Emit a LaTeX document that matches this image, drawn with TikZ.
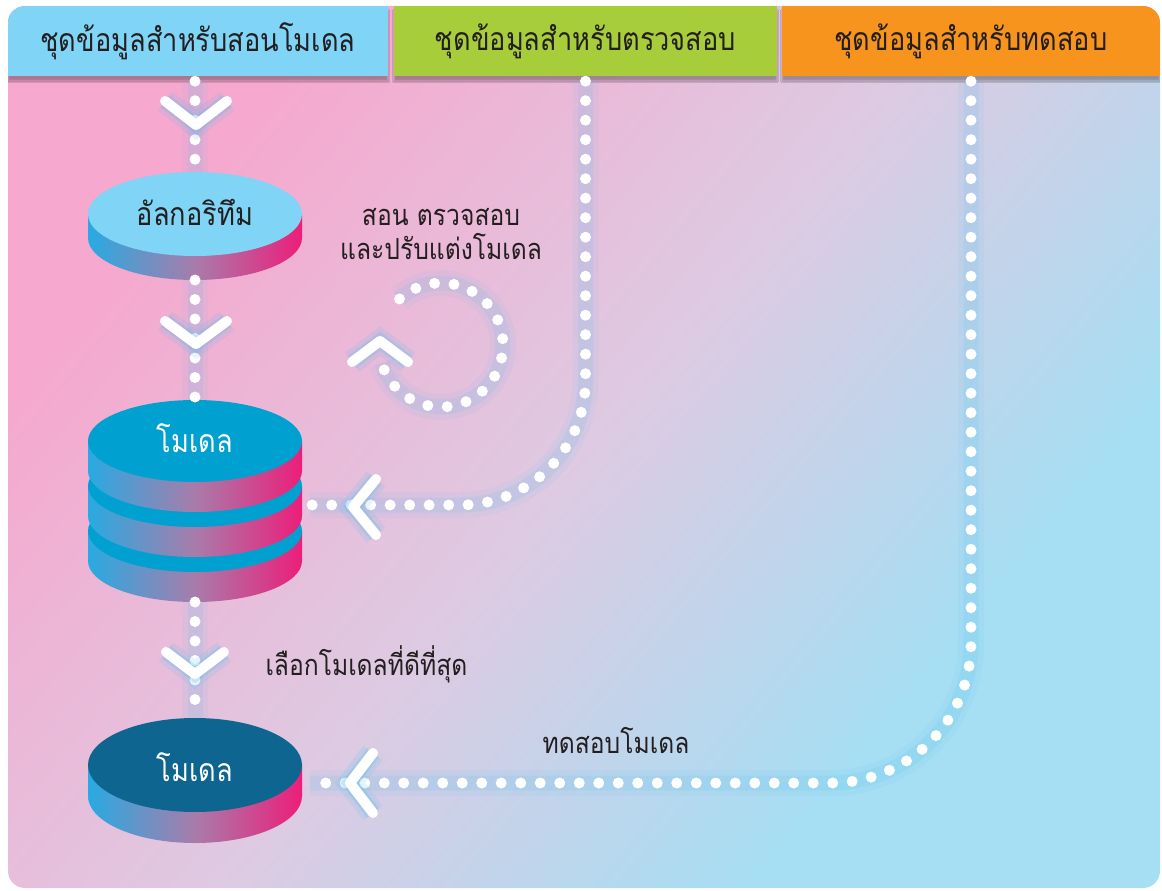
\documentclass[tikz,border=0pt]{standalone}
\usepackage{fontspec}
\newfontfamily\thaifont[Script=Thai, FakeStretch=0.85]{Loma}
\usepackage{tikz}
\usetikzlibrary{calc}
\usetikzlibrary{positioning}
\usetikzlibrary{shadows.blur}

\definecolor{bgpink}{RGB}{246,168,206}
\definecolor{bglav}{RGB}{222,202,226}
\definecolor{bgblue}{RGB}{166,222,243}
\definecolor{hdrblue}{RGB}{128,212,246}
\definecolor{hdrgreen}{RGB}{168,205,58}
\definecolor{hdrorange}{RGB}{247,148,29}
\definecolor{sideblue}{RGB}{40,170,226}
\definecolor{sidemauve}{RGB}{168,124,170}
\definecolor{sidepink}{RGB}{236,30,122}
\definecolor{algoface}{RGB}{128,212,246}
\definecolor{modelface}{RGB}{0,160,208}
\definecolor{bestface}{RGB}{14,101,144}
\definecolor{glowblue}{RGB}{80,190,240}
\definecolor{inkdark}{RGB}{35,31,32}

\pgfdeclarehorizontalshading{bgfade}{100bp}{%
  color(0bp)=(bgpink); color(27bp)=(bgpink); color(50bp)=(bglav);
  color(70bp)=(bgblue); color(100bp)=(bgblue)}

% one disk: centre x, face centre y, face y radius, thickness, face colour
\newcommand{\drawdisk}[5]{%
  \shade[left color=sideblue, right color=sidepink, middle color=sidemauve]
    (#1-107,#2) -- (#1-107,#2+#4)
    arc[start angle=180, end angle=360, x radius=107pt, y radius=#3pt]
    -- (#1+107,#2) -- cycle;
  \fill[#5] (#1,#2) ellipse [x radius=107, y radius=#3];
}

\begin{document}
\begin{tikzpicture}[
    x = 1pt,
    y = -1pt,
    font = \thaifont,
    hdr/.style = {
      rectangle,
      minimum height=70pt,
      inner sep=0pt,
      text=inkdark,
      font=\thaifont\fontsize{32}{38}\selectfont,
      blur shadow={shadow xshift=0pt, shadow yshift=-5pt,
        shadow opacity=30, shadow blur steps=6}
    },
    disklabel/.style = {
      font=\thaifont\fontsize{32}{36}\selectfont
    },
    note/.style = {
      text=inkdark,
      align=center,
      font=\thaifont\fontsize{29}{34}\selectfont
    },
    dots/.style = {
      draw=white,
      line width=11pt,
      line cap=round,
      dash pattern=on 0pt off 19.5pt,
      preaction={draw=glowblue, solid, line cap=butt, line width=26pt, draw opacity=.07},
      preaction={draw=glowblue, solid, line cap=butt, line width=15pt, draw opacity=.13}
    },
    chev/.style = {
      draw=white,
      line width=10pt,
      line cap=round,
      line join=round,
      preaction={draw=glowblue, line width=24pt, draw opacity=.14},
      preaction={draw=glowblue, line width=15pt, draw opacity=.25}
    }
  ]
  \useasboundingbox (0,0) rectangle (1162,891);

  % background
  \shade[rounded corners=17pt, shading=bgfade, shading angle=-40]
    (8,6) rectangle (1160,888);

  % headers
  \begin{scope}
    \clip[rounded corners=17pt] (8,6) rectangle (1160,888);
    \node[hdr, fill=hdrblue, minimum width=380pt] (hdrtrain) at (198,41) {ชุดข้อมูลสำหรับสอนโมเดล};
    \node[hdr, fill=hdrgreen, minimum width=383pt] (hdrval) at (585.5,41) {ชุดข้อมูลสำหรับตรวจสอบ};
    \node[hdr, fill=hdrorange, minimum width=378pt] (hdrtest) at (971,41) {ชุดข้อมูลสำหรับทดสอบ};
  \end{scope}

  % disks
  \drawdisk{195}{214}{42}{24}{algoface}
  \drawdisk{195}{531}{41}{30}{modelface}
  \drawdisk{195}{486}{41}{30}{modelface}
  \drawdisk{195}{441}{41}{30}{modelface}
  \drawdisk{195}{765}{47}{31}{bestface}

  \coordinate (algo-top) at (195,172);
  \coordinate (algo-bot) at (195,280);
  \coordinate (model-top) at (195,400);
  \coordinate (model-bot) at (195,602);
  \coordinate (model-in) at (310,505);
  \coordinate (best-top) at (195,718);
  \coordinate (best-in) at (310,783);
  \coordinate (loop) at (441,345);

  % dotted flows
  \draw[dots] ($(hdrtrain.south -| algo-top)+(0,5)$) -- (algo-top);
  \draw[dots] (algo-bot) -- (model-top);
  \draw[dots] (model-bot) -- (best-top);
  \draw[dots, rounded corners=125pt] ($(hdrval.south)+(0,5)$) |- (model-in);
  \draw[dots, rounded corners=140pt] ($(hdrtest.south)+(0,5)$) |- (best-in);
  \draw[dots] ([shift={(132:62pt)}]loop) arc[start angle=132, end angle=-163, radius=62pt];

  % chevrons
  \draw[chev] (165,101) -- (196,125) -- (227,101);
  \draw[chev] (165,321) -- (196,344) -- (227,321);
  \draw[chev] (166,652) -- (195,674) -- (224,652);
  \draw[chev] (376,479) -- (353,507) -- (376,535);
  \draw[chev] (373,753) -- (350,783) -- (373,813);
  \draw[chev] (352,362) -- (380,341) -- (408,362);

  % labels
  \node[disklabel, text=inkdark] (algo) at (195,212) {อัลกอริทึม};
  \node[disklabel, text=white] (model) at (195,438) {โมเดล};
  \node[disklabel, text=white] (best) at (195,767) {โมเดล};
  \node[note] (loop-text) at (441,234) {สอน ตรวจสอบ\\และปรับแต่งโมเดล};
  \node[note, anchor=west] (select-text) at (262,664) {เลือกโมเดลที่ดีที่สุด};
  \node[note] (test-text) at (616,741) {ทดสอบโมเดล};
\end{tikzpicture}
\end{document}
